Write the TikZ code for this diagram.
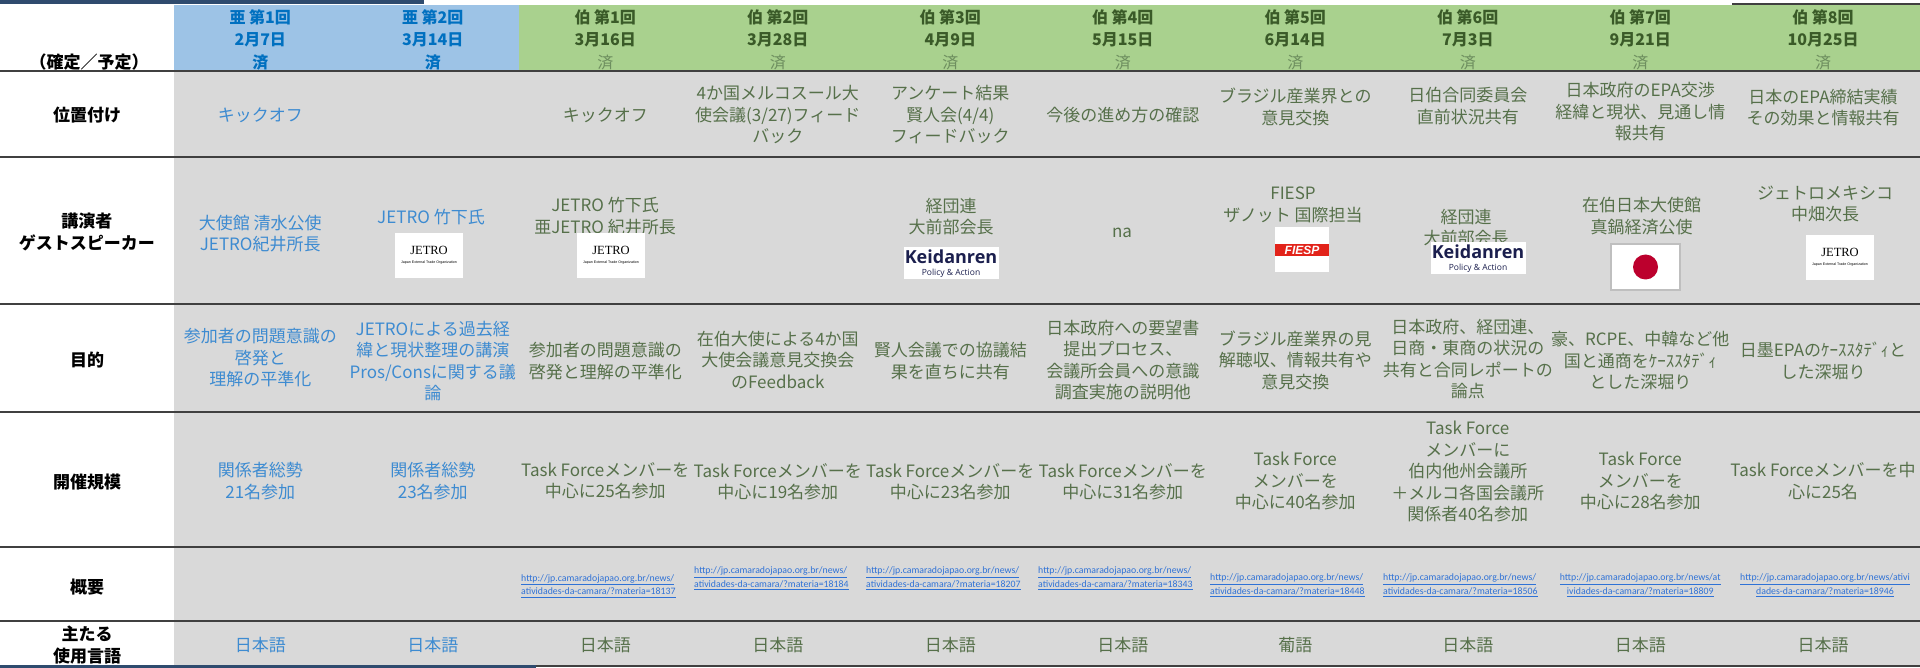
\documentclass[tikz,border=0pt]{standalone}
\usepackage{fontspec}
\usepackage{xcolor}
\usepackage{tikz}
\setmainfont{Liberation Serif}
\newfontfamily\jpfont{Noto Sans CJK JP}
\newfontfamily\linkfont{Carlito}
\newfontfamily\logofont{Open Sans}
\newfontfamily\logosans{Liberation Sans}
\definecolor{hdblue}{HTML}{9DC3E6}
\definecolor{hdgreen}{HTML}{A9D18E}
\definecolor{bodygray}{HTML}{D9D9D9}
\definecolor{navy}{HTML}{2F4B6E}
\definecolor{linegray}{HTML}{404040}
\definecolor{hdtxtblue}{HTML}{0070C0}
\definecolor{hdtxtgreen}{HTML}{3A5A28}
\definecolor{donegreen}{HTML}{6E8F5F}
\definecolor{txtblue}{HTML}{3D8BD1}
\definecolor{txtgreen}{HTML}{56704A}
\definecolor{linkblue}{HTML}{2F72D6}
\definecolor{kdnavy}{HTML}{1B1F4E}
\definecolor{fiespred}{HTML}{E2231A}
\definecolor{flagred}{HTML}{BC002D}
\definecolor{flaggray}{HTML}{BFBFBF}

\begin{document}
\begin{tikzpicture}[x=1pt, y=-1pt,
  headb/.style={font=\jpfont\bfseries\fontsize{16}{22.5}\selectfont, text=hdtxtblue, align=center, inner sep=0},
  headg/.style={headb, text=hdtxtgreen},
  lab/.style={font=\jpfont\bfseries\fontsize{17}{22}\selectfont, align=center, inner sep=0},
  cellb/.style={font=\jpfont\fontsize{17}{21.5}\selectfont, text=txtblue, align=center, inner sep=0},
  cellg/.style={cellb, text=txtgreen},
  link/.style={font=\linkfont\fontsize{9.8}{13.5}\selectfont, text=linkblue, align=left, anchor=west, inner sep=0},
  rowline/.style={draw=linegray, line width=2},
  logobox/.style={fill=white, inner sep=0},
  jetro/.style={font=\rmfamily\fontsize{12.5}{12}\selectfont, text=black, inner sep=0},
  jetrosub/.style={font=\logosans\fontsize{3.6}{4}\selectfont, text=black, inner sep=0},
  kdtext/.style={font=\logofont\bfseries\fontsize{18}{18}\selectfont, text=kdnavy, inner sep=0},
  kdsub/.style={font=\logofont\fontsize{8.5}{9}\selectfont, text=kdnavy, inner sep=0}]
\useasboundingbox (0,0) rectangle (1920,668);
% backgrounds
\fill[bodygray] (174,71.5) rectangle (1920,665);
\fill[hdblue] (174,5) rectangle (519,71.5);
\fill[hdgreen] (519,5) rectangle (1920,71.5);
\fill[navy] (0,0) rectangle (424,4.5);
\draw[rowline] (1732,4.5) -- (1920,4.5);
\draw[rowline] (0,71.5) -- (1920,71.5);
\draw[rowline] (0,157) -- (1920,157);
\draw[rowline] (0,304.5) -- (1920,304.5);
\draw[rowline] (0,412) -- (1920,412);
\draw[rowline] (0,546.5) -- (1920,546.5);
\draw[rowline] (0,621) -- (1920,621);
\fill[navy] (0,664.5) rectangle (536,668);
\draw[rowline] (536,665.5) -- (1920,665.5);
% header
\node[headb] (h1) at (260.25,39.5) {亜 第1回\\2月7日\\済};
\node[headb] (h2) at (432.75,39.5) {亜 第2回\\3月14日\\済};
\node[headg] (h3) at (605.25,39.5) {伯 第1回\\3月16日\\{\mdseries\color{donegreen}済}};
\node[headg] (h4) at (777.75,39.5) {伯 第2回\\3月28日\\{\mdseries\color{donegreen}済}};
\node[headg] (h5) at (950.25,39.5) {伯 第3回\\4月9日\\{\mdseries\color{donegreen}済}};
\node[headg] (h6) at (1122.75,39.5) {伯 第4回\\5月15日\\{\mdseries\color{donegreen}済}};
\node[headg] (h7) at (1295.25,39.5) {伯 第5回\\6月14日\\{\mdseries\color{donegreen}済}};
\node[headg] (h8) at (1467.75,39.5) {伯 第6回\\7月3日\\{\mdseries\color{donegreen}済}};
\node[headg] (h9) at (1640.25,39.5) {伯 第7回\\9月21日\\{\mdseries\color{donegreen}済}};
\node[headg] (h10) at (1823,39.5) {伯 第8回\\10月25日\\{\mdseries\color{donegreen}済}};
% row labels
\node[lab] (lab0) at (89,62) {（確定／予定）};
\node[lab] (lab1) at (87,115) {位置付け};
\node[lab] (lab2) at (87,232) {講演者\\ゲストスピーカー};
\node[lab] (lab3) at (87,360) {目的};
\node[lab] (lab4) at (87,482) {開催規模};
\node[lab] (lab5) at (87,587) {概要};
\node[lab] (lab6) at (87,645) {主たる\\使用言語};
% position
\node[cellb] (p1) at (260.25,115) {キックオフ};
\node[cellg] (p3) at (605.25,115) {キックオフ};
\node[cellg] (p4) at (777.75,115) {4か国メルコスール大\\使会議(3/27)フィード\\バック};
\node[cellg] (p5) at (950.25,115) {アンケート結果\\賢人会(4/4)\\フィードバック};
\node[cellg] (p6) at (1122.75,115) {今後の進め方の確認};
\node[cellg] (p7) at (1295.25,107) {ブラジル産業界との\\意見交換};
\node[cellg] (p8) at (1467.75,106) {日伯合同委員会\\直前状況共有};
\node[cellg] (p9) at (1640.25,112) {日本政府のEPA交渉\\経緯と現状、見通し情\\報共有};
\node[cellg] (p10) at (1823,107.5) {日本のEPA締結実績\\その効果と情報共有};
% speakers
\node[cellb] (s1) at (260.25,233.5) {大使館 清水公使\\JETRO紀井所長};
\node[cellb] (s2) at (431,217) {JETRO 竹下氏};
\node[logobox, minimum width=68, minimum height=45] (j2) at (429,255.5) {};
\node[jetro] (j2t) at (429,250) {JETRO};
\node[jetrosub] (j2s) at (429,263) {Japan External Trade Organization};
\node[cellg] (s3) at (605,216) {JETRO 竹下氏\\亜JETRO 紀井所長};
\node[logobox, minimum width=68, minimum height=45] (j3) at (611,255.5) {};
\node[jetro] (j3t) at (611,250) {JETRO};
\node[jetrosub] (j3s) at (611,263) {Japan External Trade Organization};
\node[cellg] (s5) at (951,216.5) {経団連\\大前部会長};
\node[logobox, minimum width=95, minimum height=32] (kd5) at (951,263) {};
\node[kdtext] (kd5t) at (951,257) {Keidanren};
\node[kdsub] (kd5s) at (951,273) {Policy \& Action};
\node[cellg] (s6) at (1122,233) {na};
\node[cellg] (s7) at (1293,205) {FIESP\\ザノット 国際担当};
\node[logobox, minimum width=54, minimum height=45] (fi7) at (1302,249.5) {};
\node[fill=fiespred, minimum width=54, minimum height=12, inner sep=0, text=white, font=\logosans\bfseries\itshape\fontsize{12}{12}\selectfont] (fi7t) at (1302,250.5) {FIESP};
\node[cellg] (s8) at (1466,227.5) {経団連\\大前部会長};
\node[logobox, minimum width=95, minimum height=32] (kd8) at (1478,258) {};
\node[kdtext] (kd8t) at (1478,252) {Keidanren};
\node[kdsub] (kd8s) at (1478,268) {Policy \& Action};
\node[cellg] (s9) at (1641.5,216) {在伯日本大使館\\真鍋経済公使};
\node[logobox, draw=flaggray, line width=2, minimum width=69, minimum height=46] (fl9) at (1645.5,267) {};
\node[circle, fill=flagred, minimum size=25, inner sep=0] (sun9) at (fl9.center) {};
\node[cellg] (s10) at (1825,204) {ジェトロメキシコ\\中畑次長};
\node[logobox, minimum width=68, minimum height=45] (j10) at (1840,257.5) {};
\node[jetro] (j10t) at (1840,252) {JETRO};
\node[jetrosub] (j10s) at (1840,265) {Japan External Trade Organization};
% purpose
\node[cellb] (m1) at (260.25,358) {参加者の問題意識の\\啓発と\\理解の平準化};
\node[cellb] (m2) at (432.75,361) {JETROによる過去経\\緯と現状整理の講演\\Pros/Consに関する議\\論};
\node[cellg] (m3) at (605.25,361) {参加者の問題意識の\\啓発と理解の平準化};
\node[cellg] (m4) at (777.75,360) {在伯大使による4か国\\大使会議意見交換会\\のFeedback};
\node[cellg] (m5) at (950.25,361) {賢人会議での協議結\\果を直ちに共有};
\node[cellg] (m6) at (1122.75,360) {日本政府への要望書\\提出プロセス、\\会議所会員への意識\\調査実施の説明他};
\node[cellg] (m7) at (1295.25,360) {ブラジル産業界の見\\解聴収、情報共有や\\意見交換};
\node[cellg] (m8) at (1467.75,359) {日本政府、経団連、\\日商・東商の状況の\\共有と合同レポートの\\論点};
\node[cellg] (m9) at (1640.25,361) {豪、RCPE、中韓など他\\国と通商をｹｰｽｽﾀﾃﾞｨ\\とした深堀り};
\node[cellg] (m10) at (1823,361) {日墨EPAのｹｰｽｽﾀﾃﾞｨと\\した深堀り};
% scale
\node[cellb] (n1) at (260.25,481) {関係者総勢\\21名参加};
\node[cellb] (n2) at (432.75,481) {関係者総勢\\23名参加};
\node[cellg] (n3) at (605.25,481) {Task Forceメンバーを\\中心に25名参加};
\node[cellg] (n4) at (777.75,482) {Task Forceメンバーを\\中心に19名参加};
\node[cellg] (n5) at (950.25,482) {Task Forceメンバーを\\中心に23名参加};
\node[cellg] (n6) at (1122.75,482) {Task Forceメンバーを\\中心に31名参加};
\node[cellg] (n7) at (1295.25,481) {Task Force\\メンバーを\\中心に40名参加};
\node[cellg] (n8) at (1467.75,471.5) {Task Force\\メンバーに\\伯内他州会議所\\＋メルコ各国会議所\\関係者40名参加};
\node[cellg] (n9) at (1640.25,481) {Task Force\\メンバーを\\中心に28名参加};
\node[cellg] (n10) at (1823,481) {Task Forceメンバーを中\\心に25名};
% summary links
\node[link] (u3) at (521,586) {\underline{http://jp.camaradojapao.org.br/news/}\\ \underline{atividades-da-camara/?materia=18137}};
\node[link] (u4) at (694,578.5) {\underline{http://jp.camaradojapao.org.br/news/}\\ \underline{atividades-da-camara/?materia=18184}};
\node[link] (u5) at (866,578.5) {\underline{http://jp.camaradojapao.org.br/news/}\\ \underline{atividades-da-camara/?materia=18207}};
\node[link] (u6) at (1038,578.5) {\underline{http://jp.camaradojapao.org.br/news/}\\ \underline{atividades-da-camara/?materia=18343}};
\node[link] (u7) at (1210,585.5) {\underline{http://jp.camaradojapao.org.br/news/}\\ \underline{atividades-da-camara/?materia=18448}};
\node[link] (u8) at (1383,585.5) {\underline{http://jp.camaradojapao.org.br/news/}\\ \underline{atividades-da-camara/?materia=18506}};
\node[link, anchor=center, align=center] (u9) at (1640.25,585.5) {\underline{http://jp.camaradojapao.org.br/news/at}\\ \underline{ividades-da-camara/?materia=18809}};
\node[link, anchor=center, align=center] (u10) at (1825,585.5) {\underline{http://jp.camaradojapao.org.br/news/ativi}\\ \underline{dades-da-camara/?materia=18946}};
% language
\node[cellb] (l1) at (260.25,645) {日本語};
\node[cellb] (l2) at (432.75,645) {日本語};
\node[cellg] (l3) at (605.25,645) {日本語};
\node[cellg] (l4) at (777.75,645) {日本語};
\node[cellg] (l5) at (950.25,645) {日本語};
\node[cellg] (l6) at (1122.75,645) {日本語};
\node[cellg] (l7) at (1295.25,645) {葡語};
\node[cellg] (l8) at (1467.75,645) {日本語};
\node[cellg] (l9) at (1640.25,645) {日本語};
\node[cellg] (l10) at (1823,645) {日本語};
\end{tikzpicture}
\end{document}
